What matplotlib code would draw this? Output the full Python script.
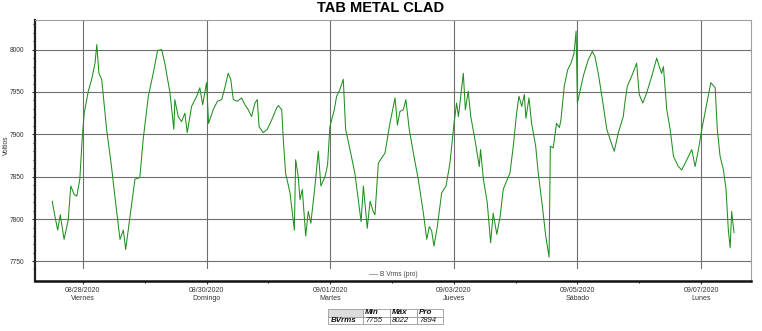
import matplotlib
matplotlib.use('Agg')
import matplotlib.pyplot as plt
import matplotlib.dates as mdates
from matplotlib.lines import Line2D
import pandas as pd

plt.rcParams['font.family'] = ['Liberation Sans', 'DejaVu Sans']

# hours counted from 08/27/2020 00:00, readings of B Vrms (pro)
start = pd.Timestamp('2020-08-27 00:00')
hours = [12.1, 12.9, 14.2, 15.2, 16.7, 18.3, 19.3, 20.6, 21.6, 22.8,
         23.7, 24.5, 26.1, 27.4, 28.7, 29.4, 30.2, 31.3, 33.2, 35.1,
         36.4, 38.4, 39.7, 40.6, 42.3, 44.2, 46.1, 47.4, 49.4, 51.3,
         53.0, 54.6,
         55.8, 57.8, 59.3, 59.7, 61.0, 62.3, 63.6, 64.5, 66.2, 68.2,
         69.4, 70.5, 72.0, 72.8, 74.6, 76.2, 77.9, 79.1, 80.4, 81.4,
         82.4, 83.9, 85.6, 86.9, 88.2, 89.5, 90.8, 91.7, 92.4, 94.0,
         95.6, 97.3, 99.2,
         99.9, 101.2, 101.8, 102.7, 104.4, 106.1, 106.6, 107.6, 108.3, 109.2,
         110.5, 111.5, 112.5, 114.1, 115.4, 116.4, 118.0, 119.0, 119.9, 121.6,
         122.5, 123.8, 125.1, 126.0, 127.7, 129.6, 130.9, 132.0, 132.9, 134.4,
         135.5, 136.7, 137.4, 138.7, 140.0, 141.3, 143.2,
         145.2, 146.1, 147.1, 148.4, 149.4, 150.7, 152.3, 154.2, 156.2, 157.5,
         158.5, 159.4, 160.3, 161.6, 163.3, 165.0, 166.5, 168.1, 169.1, 169.8,
         170.7, 171.7, 172.5, 173.6, 174.6, 176.2, 177.9, 178.4, 179.5, 181.0,
         182.3, 183.3, 184.7, 186.0, 187.2, 189.2,
         189.8, 191.1, 192.4, 193.3, 194.4, 195.4, 196.0, 197.2, 198.2, 199.8,
         200.8, 202.4, 203.7, 205.0, 205.5, 206.6, 207.9, 209.0, 209.6, 210.9,
         212.2, 213.5, 214.7, 215.5, 216.0, 217.0, 218.3, 220.2, 221.8, 222.8,
         224.1, 225.7, 227.4, 228.7, 230.3, 231.9, 233.8,
         234.5, 235.4, 237.1, 239.0, 240.0, 241.4, 242.9, 244.9, 246.8, 247.8,
         248.7, 249.4, 250.7, 252.0, 253.3, 255.2, 256.5, 258.5, 260.4, 261.7,
         263.0, 264.3, 266.0, 267.8, 269.5, 270.3, 271.4, 272.7, 273.7, 274.6,
         275.3, 275.9, 276.8]
volts = [7821, 7807, 7787, 7805, 7776, 7799, 7839, 7829, 7827, 7847,
         7894, 7925, 7951, 7965, 7984, 8006, 7972, 7965, 7906, 7862,
         7827, 7776, 7787, 7764, 7803, 7847, 7849, 7894, 7945, 7972,
         7999, 8000,
         7984, 7949, 7906, 7941, 7921, 7915, 7925, 7902, 7933, 7945,
         7955, 7935, 7961, 7913, 7929, 7939, 7941, 7955, 7972, 7965,
         7941, 7939, 7943, 7935, 7929, 7921, 7937, 7941, 7909, 7902,
         7906, 7917, 7931,
         7934, 7929, 7894, 7854, 7831, 7787, 7870, 7850, 7823, 7835,
         7780, 7809, 7795, 7839, 7880, 7839, 7850, 7864, 7909, 7929,
         7945, 7953, 7965, 7906, 7882, 7854, 7823, 7797, 7839, 7789,
         7821, 7809, 7805, 7866, 7872, 7878, 7913,
         7943, 7911, 7927, 7929, 7941, 7906, 7878, 7847, 7807, 7776,
         7791, 7786, 7768, 7791, 7831, 7839, 7866, 7913, 7937, 7921,
         7945, 7972, 7929, 7951, 7921, 7894, 7862, 7882, 7847, 7819,
         7772, 7807, 7782, 7803, 7835, 7850,
         7854, 7886, 7925, 7945, 7933, 7947, 7919, 7943, 7913, 7886,
         7854, 7815, 7780, 7755, 7886, 7884, 7913, 7908, 7917, 7957,
         7976, 7984, 7996, 8022, 7937, 7951, 7969, 7988, 7998, 7992,
         7972, 7941, 7906, 7894, 7880, 7902, 7921,
         7939, 7957, 7969, 7984, 7947, 7937, 7949, 7969, 7990, 7980,
         7972, 7980, 7929, 7906, 7874, 7862, 7858, 7870, 7882, 7862,
         7882, 7906, 7933, 7961, 7955, 7906, 7874, 7858, 7835, 7787,
         7766, 7809, 7784]

tick_dates = ['2020-08-28', '2020-08-30', '2020-09-01',
              '2020-09-03', '2020-09-05', '2020-09-07']
tick_days = ['Viernes', 'Domingo', 'Martes', 'Jueves', 'Sábado', 'Lunes']
stat_names = ['Min', 'Máx', 'Pro']
stat_vals = [7755, 8022, 7894]

t = start + pd.to_timedelta(hours, unit='h')
ticks = pd.to_datetime(tick_dates)
tick_labels = [d.strftime('%m/%d/%Y') + '\n' + n for d, n in zip(ticks, tick_days)]

W, H = 762, 331
fig = plt.figure(figsize=(W / 100, H / 100), dpi=100)
ax = fig.add_axes([35 / W, 1 - 269 / H, 716 / W, 249 / H])
band = fig.add_axes([35 / W, 1 - 281 / H, 716 / W, 12 / H], sharex=ax)

ax.plot(t, volts, color='#1f8f1f', lw=0.75)
ax.set_xlim(start + pd.Timedelta(hours=5.4), start + pd.Timedelta(hours=283.4))
ax.set_ylim(7741, 8035)
ax.set_yticks(range(7750, 8001, 50))
ax.set_yticks(range(7750, 8031, 10), minor=True)
ax.set_xticks(ticks)
ax.grid(True, which='major', color='#6e6e6e', lw=0.8)
ax.tick_params(axis='x', which='both', length=0, labelbottom=False)
ax.tick_params(axis='y', which='major', labelsize=4.8, length=2, pad=6, colors='#333333')
ax.tick_params(axis='y', which='minor', length=1.2)
for s in ['top', 'right']:
    ax.spines[s].set_color('#a0a0a0')
    ax.spines[s].set_linewidth(0.8)
ax.spines['bottom'].set_color('#909090')
ax.spines['bottom'].set_linewidth(0.6)
ax.spines['left'].set_color('#222222')
ax.spines['left'].set_linewidth(1.6)

band.set_yticks([])
band.set_xticks(ticks)
band.set_xticklabels(tick_labels)
band.xaxis.set_minor_locator(mdates.DayLocator())
band.tick_params(axis='x', which='major', labelsize=5, length=2, pad=2, colors='#333333')
band.tick_params(axis='x', which='minor', length=1.5)
band.spines['top'].set_visible(False)
band.spines['right'].set_color('#a0a0a0')
band.spines['right'].set_linewidth(0.8)
band.spines['left'].set_color('#222222')
band.spines['left'].set_linewidth(1.6)
band.spines['bottom'].set_color('#111111')
band.spines['bottom'].set_linewidth(1.8)
band.legend(handles=[Line2D([0], [0], color='#909090', lw=0.6)], labels=['B Vrms (pro)'],
            loc='center', frameon=False, fontsize=4.8, handlelength=1.3,
            handletextpad=0.4, borderpad=0, labelcolor='#444444')

fig.text(0.5, 1 - 8 / H, 'TAB METAL CLAD', ha='center', va='center',
         fontsize=10.5, weight='bold')
fig.text(6 / W, 1 - 145 / H, 'Voltios', rotation=90, ha='center', va='center',
         fontsize=4.8, color='#333333')

tab_ax = fig.add_axes([328 / W, 1 - 324 / H, 115 / W, 15 / H])
tab_ax.axis('off')
cells = [[''] + stat_names, ['BVrms'] + [str(v) for v in stat_vals]]
tbl = tab_ax.table(cellText=cells, cellLoc='left', bbox=[0, 0, 1, 1],
                   colWidths=[35 / 115, 27 / 115, 27 / 115, 26 / 115])
tbl.auto_set_font_size(False)
for (r, c), cell in tbl.get_celld().items():
    cell.set_edgecolor('#9a9a9a')
    cell.set_linewidth(0.6)
    cell.PAD = 0.08
    bold = (r == 0 or c == 0)
    cell.set_text_props(fontsize=5.8 if bold else 5.6, style='italic',
                        weight='bold' if bold else 'normal', color='#111111',
                        va='center')
tbl[0, 0].set_facecolor('#dcdcdc')

fig.savefig('out.png', dpi=100)
